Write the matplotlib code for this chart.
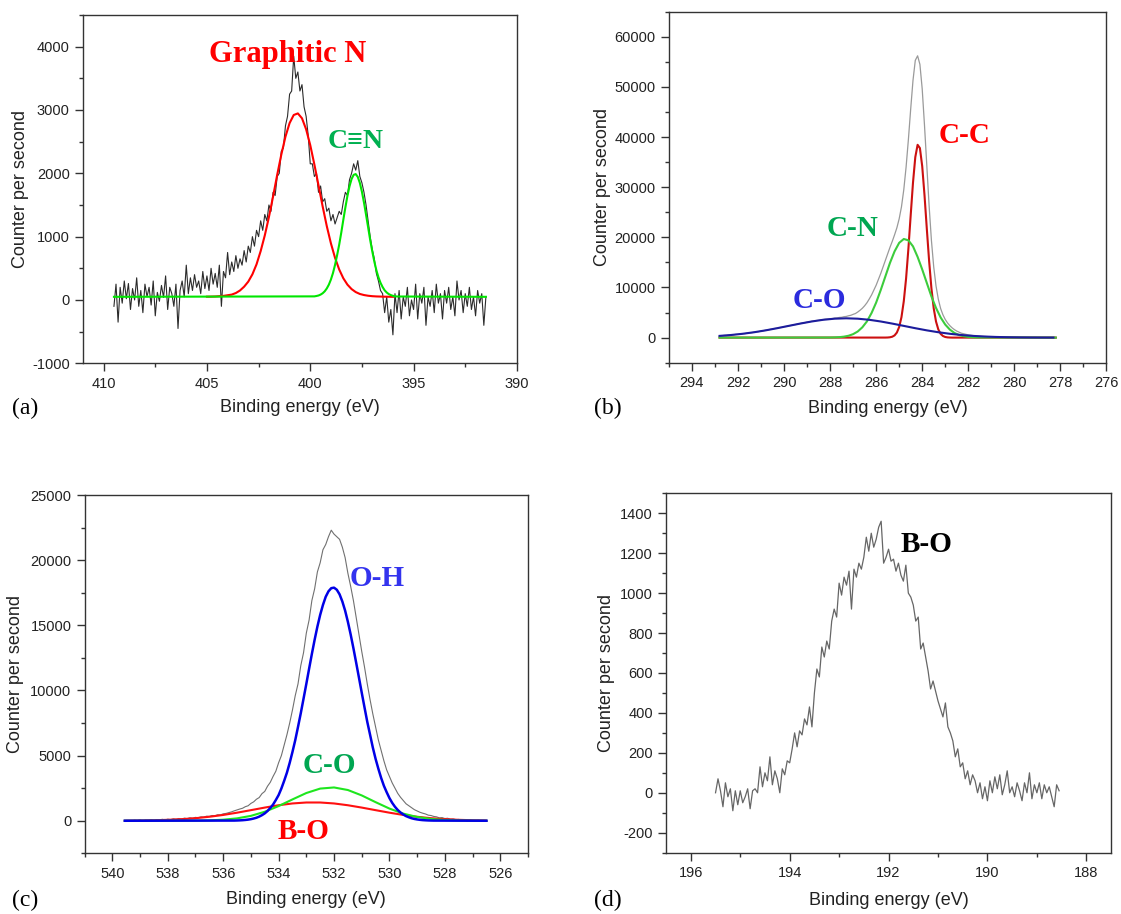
import numpy as np
import matplotlib.pyplot as plt
from matplotlib.ticker import MultipleLocator

# ---------------- data ----------------
# (a) N 1s, raw counts, 409.5 eV -> 391.5 eV, 0.1 eV step
a_start, a_step = 409.5, 0.1
a_counts = [
    -100, 250, -350, 200, -50, 300, 20, 260, -150, 180,
    0, 350, -100, 150, -200, 250, 50, 200, -80, 300,
    -250, 120, -20, 230, 40, 380, -150, 200, 100, -100,
    250, -450, 150, 300, 50, 550, 100, 350, 150, 400,
    200, 300, 100, 450, 180, 380, 150, 500, 250, 420,
    200, 550, -100, 450, 350, 750, 400, 600, 450, 700,
    500, 650, 550, 780, 600, 850, 750, 1000, 850, 1100,
    1000, 1250, 1100, 1350, 1250, 1500, 1400, 1700, 1650, 1950,
    2000, 2350, 2400, 2750, 2900, 3250, 3300, 3850, 3500, 3600,
    3300, 3400, 3050, 2900, 2600, 2150, 2150, 1950, 2000, 1700,
    1800, 1550, 1600, 1400, 1450, 1250, 1350, 1200, 1300, 1400,
    1350, 1550, 1700, 1650, 1900, 2000, 2150, 2050, 2200, 1950,
    1850, 1700, 1500, 1250, 1000, 800, 650, 420, 300, 150,
    100, -200, 50, -350, -150, -550, 100, -200, 150, -300,
    50, -100, 200, -250, 0, -150, 250, -300, 100, -50,
    200, -400, 50, -100, 150, -200, 250, -50, 100, -300,
    150, -50, 200, -150, 50, -250, 300, 0, 150, -200,
    100, -100, 200, -150, 50, -250, 150, -50, 100, -400,
    50]
a_ends = (409.5, 391.5)
a_base = 50
# graphitic N fit, 405.0 -> 396.0 eV, 0.2 eV step
a_red_start, a_red_step = 405.0, 0.2
a_red = [52, 53, 55, 60, 65, 75, 85, 110, 150, 210,
         290, 405, 563, 772, 1020, 1310, 1633, 1976, 2297, 2579,
         2793, 2921, 2946, 2869, 2695, 2445, 2138, 1810, 1477, 1166,
         894, 665, 482, 343, 242, 172, 125, 95, 78, 67,
         60, 56, 54, 52, 51, 50]
# C≡N fit, 399.8 -> 395.8 eV, 0.1 eV step
a_green_start, a_green_step = 399.8, 0.1
a_green = [57, 63, 71, 85, 106, 137, 182, 242, 323, 426,
           555, 708, 873, 1062, 1266, 1462, 1645, 1796, 1910, 1976,
           1988, 1943, 1848, 1709, 1538, 1346, 1148, 948, 770, 607,
           469, 358, 271, 205, 153, 118, 93, 77, 66, 59,
           55]

# (b) C 1s, 292.8 -> 278.2 eV, 0.1 eV step
b_start, b_step = 292.8, 0.1
b_counts = [
    360, 350, 430, 420, 500, 540, 550, 640, 650, 700,
    800, 790, 900, 960, 980, 1100, 1150, 1190, 1320, 1350,
    1480, 1510, 1640, 1690, 1820, 1860, 2000, 2040, 2190, 2230,
    2370, 2420, 2560, 2600, 2740, 2800, 2930, 2960, 3100, 3140,
    3260, 3310, 3400, 3450, 3550, 3590, 3680, 3700, 3780, 3800,
    3900, 3920, 4020, 4050, 4170, 4220, 4350, 4450, 4640, 4800,
    5100, 5450, 5850, 6350, 6950, 7700, 8500, 9450, 10450, 11600,
    12800, 14100, 15400, 16700, 18000, 19200, 20500, 21900, 23700, 26100,
    29500, 34000, 39500, 45600, 51300, 55300, 56200, 54500, 49600, 42300,
    34200, 26300, 19400, 14100, 10300, 7650, 5800, 4550, 3620, 2920,
    2380, 1940, 1590, 1300, 1080, 880, 760, 630, 540, 470,
    400, 350, 310, 270, 240, 220, 200, 180, 160, 145,
    131, 118, 106, 95, 85, 77, 69, 61, 55, 49,
    43, 38, 34, 30, 26, 23, 20, 18, 16, 14,
    12, 10, 9, 8, 7, 6, 5]
b_ends = (292.8, 278.2)
b_red_start, b_red_step = 285.6, 0.1   # C-C
b_red = [7, 22, 66, 178, 440, 1010, 2120, 4090, 7260, 11800,
         17700, 24400, 30900, 36000, 38450, 37800, 34200, 28400, 21700, 15300,
         9840, 5830, 3200, 1620, 750, 320, 124, 44, 15, 0]
b_green_start, b_green_step = 288.0, 0.2   # C-N
b_green = [18, 42, 91, 189, 368, 690, 1220, 2050, 3230, 4900,
           6990, 9500, 12200, 14900, 17200, 18900, 19670, 19400, 18200, 16100,
           13600, 10900, 8210, 5910, 4020, 2600, 1600, 930, 510, 270,
           134, 63, 28]
b_blue_start, b_blue_step = 292.8, 0.5   # C-O
b_blue = [343, 520, 762, 1070, 1444, 1875, 2337, 2795, 3215, 3554,
          3773, 3850, 3773, 3554, 3215, 2795, 2337, 1875, 1444, 1070,
          762, 520, 343, 216, 131, 77, 43, 23, 12, 6]

# (c) O 1s, 539.5 -> 526.5 eV, 0.1 eV step
c_start, c_step = 539.5, 0.1
c_counts = [
    -50, 20, -30, 40, 10, 60, -20, 50, 30, 80,
    20, 90, 50, 110, 60, 120, 80, 150, 110, 170,
    130, 200, 160, 230, 190, 260, 230, 300, 280, 350,
    330, 400, 380, 460, 450, 530, 560, 620, 680, 760,
    830, 900, 960, 1080, 1150, 1330, 1450, 1650, 1780, 2080,
    2250, 2650, 2950, 3400, 3800, 4450, 5000, 5800, 6600, 7500,
    8500, 9600, 10500, 11900, 12900, 14400, 15400, 16900, 17800, 19100,
    19800, 20800, 21200, 21800, 22300, 22000, 21800, 21600, 21000, 20200,
    19000, 18000, 16900, 15600, 14300, 13000, 11800, 10500, 9300, 8200,
    7200, 6200, 5400, 4600, 3900, 3400, 2900, 2500, 2100, 1800,
    1550, 1300, 1150, 1000, 850, 750, 650, 580, 520, 430,
    400, 330, 300, 220, 240, 170, 190, 120, 140, 80,
    100, 40, 70, -20, 50, 10, -30, 40, 0, 20,
    10]
c_ends = (539.55, 526.5)
c_blue_start, c_blue_step = 535.6, 0.1   # O-H
c_blue = [13, 20, 29, 42, 61, 86, 121, 170, 231, 317,
          430, 565, 748, 977, 1242, 1591, 1970, 2474, 3060, 3690,
          4440, 5280, 6180, 7200, 8250, 9370, 10500, 11660, 12800, 13890,
          14900, 15800, 16560, 17190, 17610, 17850, 17890, 17730, 17380, 16830,
          16130, 15270, 14300, 13240, 12120, 10980, 9830, 8700, 7590, 6610,
          5620, 4750, 3990, 3290, 2680, 2190, 1740, 1370, 1070, 825,
          630, 480, 354, 267, 191, 138, 100, 70, 48, 34,
          23, 16, 11]
c_green_start, c_green_step = 537.0, 0.5   # C-O
c_green = [11, 31, 79, 182, 374, 689, 1126, 1636, 2127, 2468,
           2554, 2358, 1943, 1426, 934, 545, 287, 133, 56, 20, 7]
c_red_start, c_red_step = 539.5, 0.5   # B-O
c_red = [10, 20, 38, 70, 120, 195, 305, 444, 618, 812,
         1010, 1189, 1327, 1400, 1400, 1327, 1189, 1010, 812, 618,
         444, 305, 195, 120, 70, 38, 20]

# (d) B 1s, 195.5 -> 188.55 eV, 0.05 eV step
d_start, d_step = 195.5, 0.05
d_counts = [
    0, 70, 10, -70, 50, -20, 20, -90, 10, -60,
    10, -50, -20, 20, -80, 10, 20, 0, 130, 30,
    100, 60, 180, 40, 110, 70, 0, 120, 90, 160,
    150, 220, 300, 230, 310, 290, 370, 340, 430, 330,
    500, 620, 580, 730, 680, 760, 720, 860, 920, 880,
    1050, 990, 1080, 1040, 1110, 920, 1120, 1080, 1150, 1120,
    1180, 1280, 1210, 1300, 1230, 1270, 1330, 1360, 1150, 1180,
    1220, 1160, 1170, 1110, 1150, 1090, 1060, 1140, 1000, 980,
    940, 860, 880, 720, 750, 680, 610, 520, 560, 510,
    460, 420, 380, 450, 330, 300, 260, 180, 220, 130,
    150, 70, 110, 40, 90, 60, 0, 50, -30, 30,
    -40, 60, 0, 80, 20, 90, -10, 40, 110, 0,
    30, -20, 50, 10, -40, 50, 0, 100, -30, 40,
    0, 50, -30, 40, 0, 30, -20, -70, 40, 10]


def ev(start, step, n):
    return start - step * np.arange(n)


def padded(start, step, vals, ends, base=0):
    x = np.r_[ends[0], ev(start, step, len(vals)), ends[1]]
    y = np.r_[base, vals, base]
    return x, y


plt.rcParams['font.family'] = ['Liberation Sans', 'DejaVu Sans']
plt.rcParams['axes.unicode_minus'] = False
serif = ['Liberation Serif', 'DejaVu Serif']

fig = plt.figure(figsize=(11.21, 9.14), dpi=100)
ax_a = fig.add_axes([0.0740, 0.6025, 0.3871, 0.3811])
ax_b = fig.add_axes([0.5967, 0.6032, 0.3903, 0.3840])
ax_c = fig.add_axes([0.0755, 0.0664, 0.3955, 0.3920])
ax_d = fig.add_axes([0.5942, 0.0671, 0.3969, 0.3932])


def style(ax, xlim, ylim, xmaj, xmin, ymaj, ymin, ylab_x, xlab_y):
    ax.set_xlim(*xlim)
    ax.set_ylim(*ylim)
    ax.xaxis.set_major_locator(MultipleLocator(xmaj))
    ax.xaxis.set_minor_locator(MultipleLocator(xmin))
    ax.yaxis.set_major_locator(MultipleLocator(ymaj))
    ax.yaxis.set_minor_locator(MultipleLocator(ymin))
    for s in ax.spines.values():
        s.set_color('#333333')
        s.set_linewidth(1.0)
    ax.tick_params(which='both', direction='out', top=False, right=False,
                   color='#333333', width=1.0)
    ax.tick_params(which='major', length=6, labelsize=10.5, pad=3.5,
                   labelcolor='#222222')
    ax.tick_params(which='minor', length=3)
    ax.set_xlabel('Binding energy (eV)', fontsize=13, color='#222222')
    ax.set_ylabel('Counter per second', fontsize=13, color='#222222')
    ax.xaxis.label.set_va('center')
    ax.yaxis.label.set_va('center')
    ax.xaxis.set_label_coords(0.5, xlab_y)
    ax.yaxis.set_label_coords(ylab_x, 0.5)


# (a)
ax_a.plot(ev(a_start, a_step, len(a_counts)), a_counts, color='#2b2b2b', lw=0.8)
ax_a.plot(ev(a_red_start, a_red_step, len(a_red)), a_red, color='#ff0000', lw=1.5)
xg, yg = padded(a_green_start, a_green_step, a_green, a_ends, a_base)
ax_a.plot(xg, yg, color='#00e600', lw=1.5)
style(ax_a, (411, 390), (-1000, 4500), 5, 2.5, 1000, 500, -0.145, -0.128)
ax_a.text(401.1, 3760, 'Graphitic N', color='#ff0000', fontsize=22,
          fontweight='bold', family=serif, ha='center', va='baseline')
ax_a.text(397.8, 2395, 'C≡N', color='#00b050', fontsize=20,
          fontweight='bold', family=serif, ha='center', va='baseline')

# (b)
ax_b.plot(ev(b_start, b_step, len(b_counts)), b_counts, color='#9a9a9a', lw=0.9)
x, y = padded(b_red_start, b_red_step, b_red, b_ends)
ax_b.plot(x, y, color='#cc1010', lw=1.5)
x, y = padded(b_green_start, b_green_step, b_green, b_ends)
ax_b.plot(x, y, color='#3ccc3c', lw=1.5)
ax_b.plot(ev(b_blue_start, b_blue_step, len(b_blue)), b_blue, color='#1c1c9c', lw=1.5)
style(ax_b, (295, 276), (-5000, 65000), 2, 1, 10000, 5000, -0.151, -0.130)
ax_b.text(282.17, 38750, 'C-C', color='#ff0000', fontsize=21,
          fontweight='bold', family=serif, ha='center', va='baseline')
ax_b.text(287.02, 20330, 'C-N', color='#00a651', fontsize=21,
          fontweight='bold', family=serif, ha='center', va='baseline')
ax_b.text(288.45, 5860, 'C-O', color='#2b2bdd', fontsize=21,
          fontweight='bold', family=serif, ha='center', va='baseline')

# (c)
ax_c.plot(ev(c_start, c_step, len(c_counts)), c_counts, color='#707070', lw=0.8)
x, y = padded(c_red_start, c_red_step, c_red, c_ends)
ax_c.plot(x, y, color='#ff1010', lw=1.5)
x, y = padded(c_green_start, c_green_step, c_green, c_ends)
ax_c.plot(x, y, color='#1ee61e', lw=1.5)
x, y = padded(c_blue_start, c_blue_step, c_blue, c_ends)
ax_c.plot(x, y, color='#0000e6', lw=1.8)
style(ax_c, (541, 525), (-2500, 25000), 2, 1, 5000, 2500, -0.155, -0.130)
ax_c.text(530.44, 18010, 'O-H', color='#3333ee', fontsize=21,
          fontweight='bold', family=serif, ha='center', va='baseline')
ax_c.text(532.16, 3680, 'C-O', color='#00a651', fontsize=21,
          fontweight='bold', family=serif, ha='center', va='baseline')
ax_c.text(533.09, -1430, 'B-O', color='#ff0000', fontsize=21,
          fontweight='bold', family=serif, ha='center', va='baseline')

# (d)
ax_d.plot(ev(d_start, d_step, len(d_counts)), d_counts, color='#666666', lw=0.9)
style(ax_d, (196.5, 187.5), (-300, 1500), 2, 1, 200, 100, -0.135, -0.132)
ax_d.text(191.24, 1208, 'B-O', color='black', fontsize=21,
          fontweight='bold', family=serif, ha='center', va='baseline')

for lab, (fx, fy) in zip(['(a)', '(b)', '(c)', '(d)'],
                         [(0.011, 0.5536), (0.530, 0.5536),
                          (0.011, 0.0153), (0.530, 0.0153)]):
    fig.text(fx, fy, lab, fontsize=17, family=serif, ha='left', va='center')

fig.savefig('out.png', dpi=100)
